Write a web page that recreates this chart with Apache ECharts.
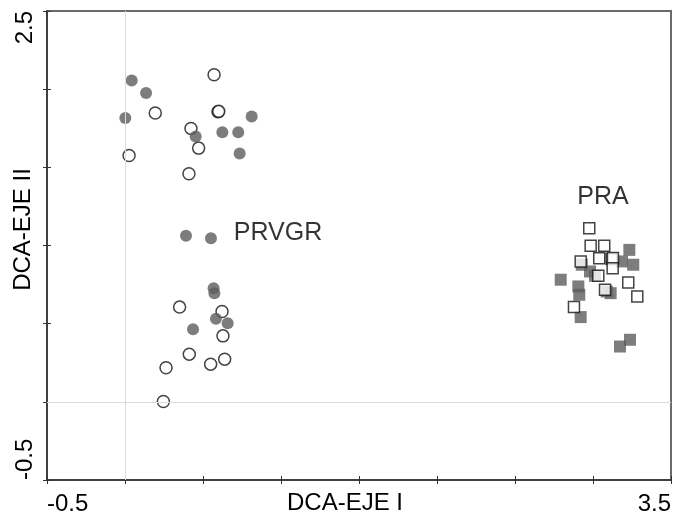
<!DOCTYPE html>
<html>
<head>
<meta charset="utf-8">
<script src="https://cdn.jsdelivr.net/npm/echarts@6/dist/echarts.min.js"></script>
<style>html,body{margin:0;padding:0;background:#fff}#c{width:674px;height:513px}</style>
</head>
<body>
<div id="c"></div>
<script>
// ---- data ----
var xTickLabels = ['-0.5', '3.5'];
var yTickLabels = ['-0.5', '2.5'];
var xAxisName = 'DCA-EJE I';
var yAxisName = 'DCA-EJE II';

var prvgrFilled = [
  [0.043,2.056],[0.135,1.975],[0.002,1.815],[0.453,1.697],[0.624,1.725],[0.726,1.725],[0.812,1.825],[0.735,1.589],
  [0.391,1.062],[0.551,1.047],[0.568,0.727],[0.573,0.695],[0.583,0.531],[0.658,0.503],[0.436,0.465]
];
var prvgrOpen = [
  [0.571,2.092],[0.596,1.855],[0.601,1.858],[0.194,1.847],[0.423,1.749],[0.472,1.623],[0.026,1.576],[0.410,1.459],
  [0.350,0.606],[0.622,0.578],[0.628,0.422],[0.412,0.305],[0.639,0.273],[0.549,0.241],[0.263,0.218],[0.246,0.002]
];
var praFilled = [
  [3.233,0.972],[3.258,0.877],[3.186,0.898],[2.928,0.877],[2.981,0.834],[3.013,0.806],[2.793,0.781],
  [2.906,0.738],[2.912,0.685],[3.088,0.706],[3.113,0.695],[2.921,0.542],[3.173,0.354],[3.237,0.397]
];
var praOpen = [
  [2.976,1.111],[2.985,0.998],[3.072,0.998],[3.040,0.919],[3.120,0.913],[3.128,0.920],[2.921,0.898],
  [3.034,0.806],[3.126,0.855],[3.226,0.763],[3.284,0.674],[3.077,0.717],[2.878,0.606]
];
var groupNames = ['PRVGR', 'PRA'];
var groupLabelPos = [[0.981,1.081],[3.064,1.308]];
var refLines = [{xAxis: 0}, {yAxis: 0}];

// ---- chart ----
var FONT = 'Liberation Sans, Arial, sans-serif';
var chart = echarts.init(document.getElementById('c'), null, {renderer: 'canvas'});

function lbl(list){
  return function(v){
    for (var i = 0; i < list.length; i++) if (Math.abs(parseFloat(list[i]) - v) < 1e-9) return list[i];
    return '';
  };
}

var filledColor = '#5c5c5c';
var openStyle = {color: '#ffffff', borderColor: '#141414', borderWidth: 1.5};

var baseX = {type: 'value', min: -0.5, max: 3.5, interval: 0.5, position: 'bottom', splitLine: {show: false}};
var baseY = {type: 'value', min: -0.5, max: 2.5, interval: 0.5, position: 'left', splitLine: {show: false}};

var option = {
  animation: false,
  backgroundColor: '#fff',
  textStyle: {fontFamily: FONT},
  grid: {left: 47, right: 3, top: 11, bottom: 33, containLabel: false, outerBoundsMode: 'none',
         show: true, borderColor: '#6a6a6a', borderWidth: 2, backgroundColor: 'transparent'},
  xAxis: [
    Object.assign({}, baseX, {
      axisLine: {onZero: false, lineStyle: {color: '#333', width: 1.5}},
      axisTick: {length: 4, lineStyle: {color: '#333', width: 1}},
      axisLabel: {formatter: lbl(xTickLabels), fontSize: 24, color: '#000', fontFamily: FONT, margin: 12,
                  showMinLabel: true, showMaxLabel: true, alignMinLabel: 'left', alignMaxLabel: 'right'},
      name: xAxisName, nameLocation: 'middle', nameGap: 11, nameMoveOverlap: false,
      nameTextStyle: {fontSize: 24, color: '#000', fontFamily: FONT, verticalAlign: 'top', padding: [0, 28, 0, 0]}
    }),
    Object.assign({}, baseX, {
      axisLine: {show: false, onZero: false},
      axisTick: {inside: true, length: 4, lineStyle: {color: '#333', width: 1}},
      axisLabel: {show: false}
    })
  ],
  yAxis: [
    Object.assign({}, baseY, {
      axisLine: {onZero: false, lineStyle: {color: '#333', width: 1.5}},
      axisTick: {length: 4, lineStyle: {color: '#333', width: 1}},
      axisLabel: {formatter: lbl(yTickLabels), fontSize: 24, color: '#000', fontFamily: FONT, margin: 10, rotate: 90,
                  showMinLabel: true, showMaxLabel: true, alignMinLabel: 'left', alignMaxLabel: 'right'},
      name: yAxisName, nameLocation: 'middle', nameGap: 12, nameRotate: 90, nameMoveOverlap: false,
      nameTextStyle: {fontSize: 24, color: '#000', fontFamily: FONT, padding: [0, 0, 0, 32]}
    }),
    Object.assign({}, baseY, {
      axisLine: {show: false, onZero: false},
      axisTick: {inside: true, length: 4, lineStyle: {color: '#333', width: 1}},
      axisLabel: {show: false}
    })
  ],
  series: [
    {
      type: 'scatter', name: 'ref', data: [], silent: true,
      markLine: {silent: true, symbol: 'none', label: {show: false},
                 lineStyle: {color: '#dcdcdc', width: 1, type: 'solid'}, data: refLines}
    },
    {type: 'scatter', name: 'PRVGR open', data: prvgrOpen, symbol: 'circle', symbolSize: 12, itemStyle: openStyle, emphasis: {disabled: true}},
    {type: 'scatter', name: 'PRVGR filled', data: prvgrFilled, symbol: 'circle', symbolSize: 12, itemStyle: {color: filledColor}, emphasis: {disabled: true}},
    {type: 'scatter', name: 'PRA filled', data: praFilled, symbol: 'rect', symbolSize: 12, itemStyle: {color: filledColor}, emphasis: {disabled: true}},
    {type: 'scatter', name: 'PRA open', data: praOpen, symbol: 'rect', symbolSize: 11, itemStyle: openStyle, emphasis: {disabled: true}},
    {
      type: 'scatter', name: 'labels', symbolSize: 0, silent: true,
      data: groupNames.map(function(n, i){ return {name: n, value: groupLabelPos[i]}; }),
      label: {show: true, position: 'inside', formatter: '{b}', fontSize: 25, color: '#000', fontFamily: FONT, textBorderWidth: 0}
    }
  ]
};
chart.setOption(option);
</script>
</body>
</html>
